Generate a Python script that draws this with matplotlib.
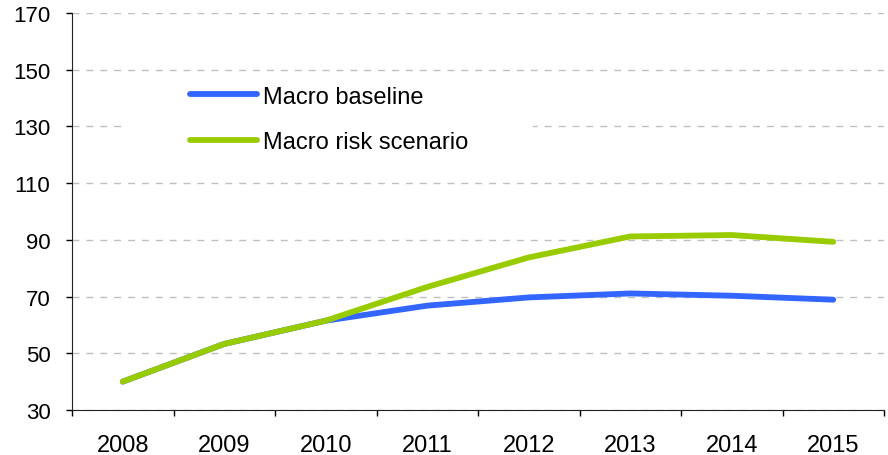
import matplotlib
matplotlib.use("Agg")
import matplotlib.pyplot as plt
from matplotlib.patches import Rectangle

# Datos
anios = ['2008', '2009', '2010', '2011', '2012', '2013', '2014', '2015']
macro_baseline = [40, 53.3, 61.5, 66.8, 69.7, 71.1, 70.3, 68.9]
macro_riesgo = [40, 53.3, 61.5, 73.4, 83.8, 91.2, 91.7, 89.3]
y_ticks = [30, 50, 70, 90, 110, 130, 150, 170]

plt.rcParams['font.family'] = ['Liberation Sans', 'DejaVu Sans']

fig = plt.figure(figsize=(8.88, 4.56), dpi=100)
ax = fig.add_axes([72 / 888, 1 - 411 / 456, 812 / 888, 397 / 456])

x = list(range(len(anios)))
ax.plot(x, macro_baseline, color='#3366FF', linewidth=4.2, solid_capstyle='round',
        solid_joinstyle='round', label='Macro baseline', zorder=3)
ax.plot(x, macro_riesgo, color='#99CC00', linewidth=4.2, solid_capstyle='round',
        solid_joinstyle='round', label='Macro risk scenario', zorder=4)

ax.set_xlim(-0.5, len(anios) - 0.5)
ax.set_ylim(30, 170)
ax.set_yticks(y_ticks)
ax.set_xticks(x)
ax.set_xticklabels(anios)
ax.set_xticks([i - 0.5 for i in range(len(anios) + 1)], minor=True)

# Rejilla discontinua gris
ax.set_axisbelow(True)
ax.yaxis.grid(True, color='#C0C0C0', linestyle=(0, (5, 5)), linewidth=1.0)

for lado in ['top', 'right']:
    ax.spines[lado].set_visible(False)
ax.spines['left'].set_color('#222222')
ax.spines['bottom'].set_color('#222222')

ax.tick_params(axis='y', direction='out', length=4.5, width=1, pad=11, labelsize=16)
ax.tick_params(axis='x', which='major', length=0, pad=17, labelsize=17)
ax.tick_params(axis='x', which='minor', direction='out', length=4, width=1)

# Fondo blanco de la leyenda (tapa la rejilla de 130)
ax.add_patch(Rectangle((0.0616, 0.63), 0.506, 0.15, transform=ax.transAxes,
                       facecolor='white', edgecolor='none', zorder=1))

leg = ax.legend(loc='center left', bbox_to_anchor=(0.1453, 0.732), frameon=False,
                fontsize=17, handlelength=2.85, handletextpad=0.25, labelspacing=1.0,
                borderpad=0, borderaxespad=0)

fig.savefig('out.png', dpi=100)
